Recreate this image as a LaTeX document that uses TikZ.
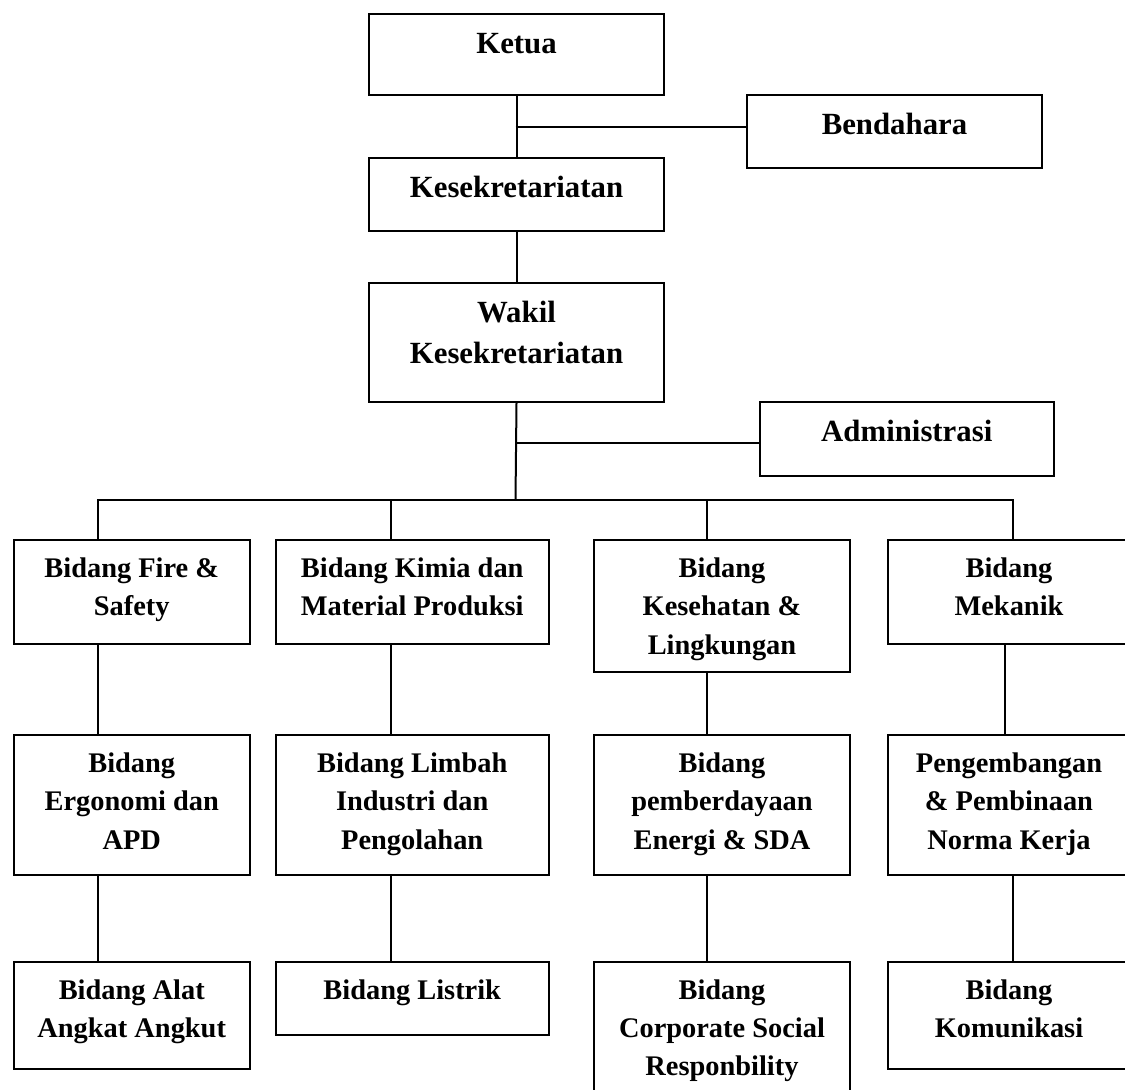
\documentclass[tikz,border=0pt]{standalone}
\usepackage{fontspec}
\setmainfont{Liberation Serif}
\usepackage{tikz}
\usetikzlibrary{positioning}
\tikzset{orgbox/.style={draw,line width=2pt,inner sep=0pt,anchor=north west},
  orgline/.style={line width=2pt}}
% text inside the boxes sits at the top, as in a text box
\newcommand{\toptext}[3]{\parbox[t][#2pt][t]{#1pt}{\centering
  \fontsize{30.8pt}{41pt}\selectfont\bfseries\rule{0pt}{39.5pt}#3}}
\newcommand{\subtext}[3]{\parbox[t][#2pt][t]{#1pt}{\centering
  \fontsize{28.4pt}{38.3pt}\selectfont\bfseries\rule{0pt}{37.5pt}#3}}

\begin{document}
\begin{tikzpicture}[x=1pt,y=-1pt]

  \path[use as bounding box,clip] (0,0) rectangle (1125,1090);
  \fill[white] (0,0) rectangle (1125,1090);

  % top of the chart
  \node[orgbox] (ketua) at (368,12.7) {\toptext{295}{81.3}{Ketua}};
  \node[orgbox] (sekre) at (368,157) {\toptext{295}{73}{Kesekretariatan}};
  \node[orgbox] (wakil) at (368,281.7) {\toptext{295}{119.3}{Wakil\\Kesekretariatan}};
  \node[orgbox] (bendahara) at (746,94) {\toptext{295}{73}{Bendahara}};
  \node[orgbox] (admin) at (758.6,400.7) {\toptext{294.4}{74.3}{Administrasi}};

  % first row
  \node[orgbox] (fire) at (12.5,539) {\subtext{236.5}{104}{Bidang Fire \&\\Safety}};
  \node[orgbox] (kimia) at (275,539) {\subtext{272.5}{104}{Bidang Kimia dan\\Material Produksi}};
  \node[orgbox] (sehat) at (593,539) {\subtext{256}{132}{Bidang\\Kesehatan \&\\Lingkungan}};
  \node[orgbox] (mekanik) at (887,539) {\subtext{242}{104}{Bidang\\Mekanik}};

  % second row
  \node[orgbox] (ergo) at (12.5,734) {\subtext{236.5}{140}{Bidang\\Ergonomi dan\\APD}};
  \node[orgbox] (limbah) at (275,734) {\subtext{272.5}{140}{Bidang Limbah\\Industri dan\\Pengolahan}};
  \node[orgbox] (energi) at (593,734) {\subtext{256}{140}{Bidang\\pemberdayaan\\Energi \& SDA}};
  \node[orgbox] (norma) at (887,734) {\subtext{242}{140}{Pengembangan\\\& Pembinaan\\Norma Kerja}};

  % third row
  \node[orgbox] (alat) at (12.5,960.7) {\subtext{236.5}{107}{Bidang Alat\\Angkat Angkut}};
  \node[orgbox] (listrik) at (275,960.7) {\subtext{272.5}{73}{Bidang Listrik}};
  \node[orgbox] (csr) at (593,960.7) {\subtext{256}{140}{Bidang\\Corporate Social\\Responbility}};
  \node[orgbox] (komun) at (887,960.7) {\subtext{242}{107}{Bidang\\Komunikasi}};

  % junctions
  \coordinate (bj) at (515.5,127);
  \coordinate (aj) at (515.5,443);
  \coordinate (bus) at (515.5,500);
  \coordinate (d1) at (98,500);
  \coordinate (d2) at (391,500);
  \coordinate (d3) at (707,500);
  \coordinate (d4) at (1013,500);
  \coordinate (d5) at (1005,500);

  \draw[orgline] (ketua.south) -- (sekre.north);
  \draw[orgline] (bj) -- (bj -| bendahara.west);
  \draw[orgline] (sekre.south) -- (wakil.north);
  \draw[orgline] (wakil.south) -- (bus);
  \draw[orgline] (aj) -- (aj -| admin.west);
  \draw[orgline] (d1 |- fire.north) -- (d1) -- (d4) -- (d4 |- mekanik.north);

  \draw[orgline] (d2) -- (d2 |- kimia.north);
  \draw[orgline] (d3) -- (d3 |- sehat.north);

  \draw[orgline] (d1 |- fire.south) -- (d1 |- ergo.north);
  \draw[orgline] (d2 |- kimia.south) -- (d2 |- limbah.north);
  \draw[orgline] (d3 |- sehat.south) -- (d3 |- energi.north);
  \draw[orgline] (d5 |- mekanik.south) -- (d5 |- norma.north);

  \draw[orgline] (d1 |- ergo.south) -- (d1 |- alat.north);
  \draw[orgline] (d2 |- limbah.south) -- (d2 |- listrik.north);
  \draw[orgline] (d3 |- energi.south) -- (d3 |- csr.north);
  \draw[orgline] (d4 |- norma.south) -- (d4 |- komun.north);

\end{tikzpicture}
\end{document}
